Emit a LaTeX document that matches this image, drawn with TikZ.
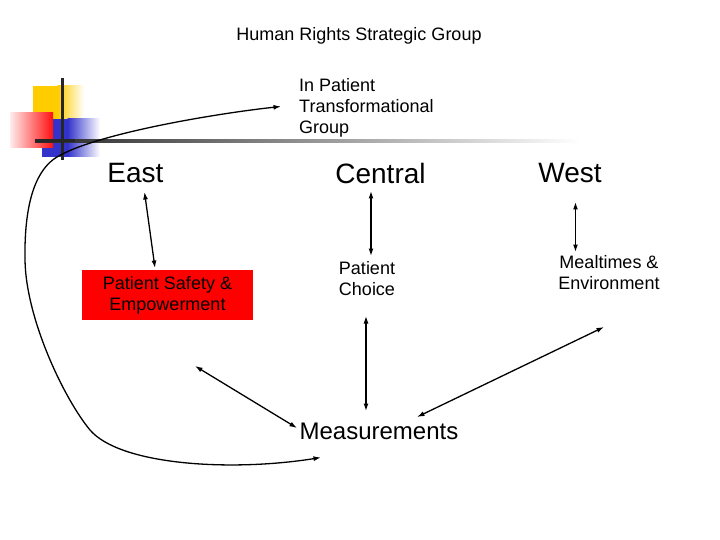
\documentclass[tikz,border=0pt]{standalone}
\usepackage{fontspec}
\setmainfont{Liberation Sans}
\usetikzlibrary{arrows.meta}
\definecolor{logoyellow}{HTML}{FFCC00}
\definecolor{logored}{HTML}{FF1010}
\definecolor{logoblue}{HTML}{3333CC}
\definecolor{boxred}{HTML}{FF0000}
\tikzset{
  lbl/.style={inner sep=0pt, font=\fontsize{18}{21}\selectfont},
  region/.style={inner sep=0pt, font=\fontsize{28}{32}\selectfont},
  conn/.style={line width=1.3pt, {Latex[length=7.5pt,width=5pt]}-{Latex[length=7.5pt,width=5pt]}},
}
\begin{document}
\begin{tikzpicture}[x=1pt,y=-1pt]
\useasboundingbox (0,0) rectangle (720,540);
\fill[white] (0,0) rectangle (720,540);
% logo
\fill[logoyellow] (33,86) rectangle (58,120);
\shade[left color=logoyellow, right color=white] (57.5,86) rectangle (84,120);
\fill[logoblue] (42,119) rectangle (68,157);
\shade[left color=logoblue, right color=white] (67.5,119) rectangle (100,157);
\shade[left color=logored!8, right color=logored] (10,113) rectangle (53,148);
\shade[left color=black!85, right color=white] (35,139.5) rectangle (580,142.5);
\fill[black!85] (35,139.5) rectangle (75,142.5);
\fill[black!85] (60.5,78) rectangle (63.5,160);
% texts
\node[lbl] (title) at (359,36) {Human Rights Strategic Group};
\node[lbl, anchor=west, align=left] (ipt) at (299,108) {In Patient\\Transformational\\Group};
\node[region] (east) at (135.5,173) {East};
\node[region] (central) at (380.5,173) {Central};
\node[region] (west) at (570,173) {West};
\node[lbl, fill=boxred, align=center, minimum width=171pt, minimum height=50pt] (pse) at (167.5,295) {Patient Safety \&\\Empowerment};
\node[lbl, align=center] (pc) at (367,279) {Patient\\Choice};
\node[lbl, align=center] (me) at (609,273) {Mealtimes \&\\Environment};
\node[inner sep=0pt, font=\fontsize{24}{28}\selectfont] (meas) at (379,431) {Measurements};
% connector end points
\coordinate (e1) at (144.5,192);
\coordinate (e2) at (155,268);
\coordinate (c1) at (371,191);
\coordinate (c2) at (371,256);
\coordinate (w1) at (575.5,202);
\coordinate (w2) at (575.5,252);
\coordinate (p1) at (366,316);
\coordinate (p2) at (366,411);
\coordinate (m1) at (604,327);
\coordinate (m2) at (417,417);
\coordinate (s1) at (195,366);
\coordinate (s2) at (297,428);
\coordinate (b1) at (321,457.5);
\coordinate (b2) at (281,106.5);
% connectors
\draw[conn] (e1) -- (e2);
\draw[conn] (c1) -- (c2);
\draw[conn] (w1) -- (w2);
\draw[conn] (p1) -- (p2);
\draw[conn] (m1) -- (m2);
\draw[conn] (s1) -- (s2);
\draw[conn] (b1) .. controls (230,472) and (120,465) .. (90,430)
  .. controls (65,400) and (26,320) .. (25,260)
  .. controls (24,200) and (37,169) .. (57,157)
  .. controls (97,133) and (220,113) .. (b2);
\end{tikzpicture}
\end{document}
